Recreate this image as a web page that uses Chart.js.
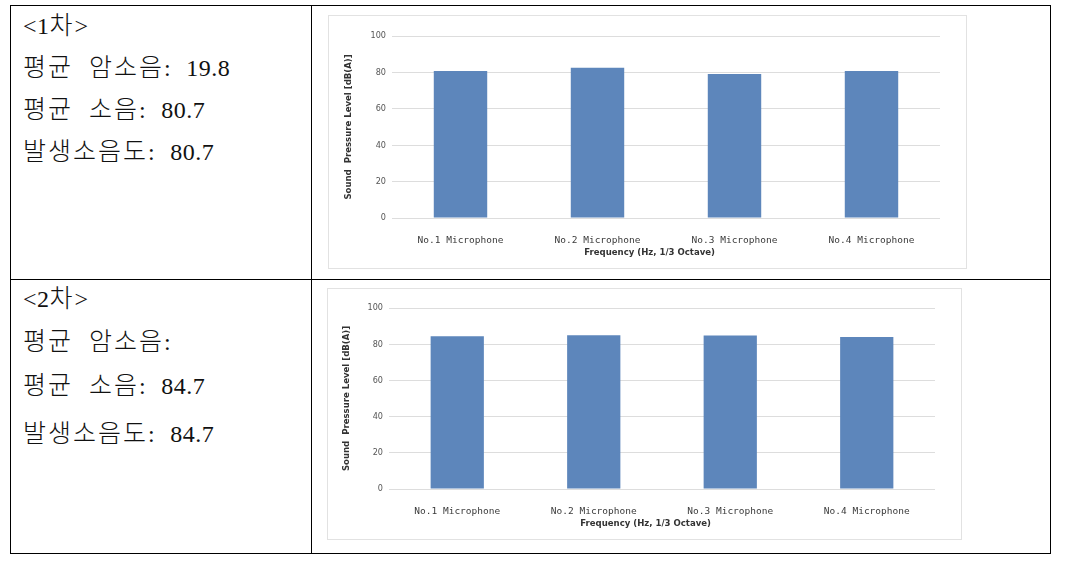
<!DOCTYPE html>
<html>
<head>
<meta charset="utf-8">
<script src="https://cdn.jsdelivr.net/npm/chart.js@4"></script>
<style>
body { margin: 0; background: #fff; width: 1067px; height: 561px; position: relative; overflow: hidden; }
.ln { position: absolute; background: #000; }
.tx { position: absolute; left: 23px; font-family: "Noto Sans CJK KR", sans-serif; font-weight: 300; font-size: 25px; line-height: 30px; white-space: pre; color: #111; letter-spacing: 2px; }
.tx .n { font-family: "Liberation Serif", serif; font-weight: 400; font-size: 24px; letter-spacing: 0.5px; }
.tx .g { display: inline-block; width: 16px; }
.tx .s { display: inline-block; width: 15px; }
.box { position: absolute; }
.box canvas { position: absolute; left: 0; top: 0; }
.box .frame { position: absolute; left: 0; top: 0; right: 0; bottom: 0; border: 1px solid #e2e2e2; pointer-events: none; }
</style>
</head>
<body>

<!-- table lines -->
<div class="ln" style="left:10px;top:5px;width:1041px;height:1px"></div>
<div class="ln" style="left:10px;top:279px;width:1041px;height:1px"></div>
<div class="ln" style="left:10px;top:553px;width:1041px;height:1px"></div>
<div class="ln" style="left:10px;top:5px;width:1px;height:549px"></div>
<div class="ln" style="left:311px;top:5px;width:1px;height:549px"></div>
<div class="ln" style="left:1050px;top:5px;width:1px;height:549px"></div>

<!-- left cells -->
<div class="tx" style="top:8px"><span class="n">&lt;1</span>차<span class="n">&gt;</span></div>
<div class="tx" style="top:50px">평균<span class="g"></span>암소음<span class="n">:</span><span class="s"></span><span class="n">19.8</span></div>
<div class="tx" style="top:92px">평균<span class="g"></span>소음<span class="n">:</span><span class="s"></span><span class="n">80.7</span></div>
<div class="tx" style="top:134px">발생소음도<span class="n">:</span><span class="s"></span><span class="n">80.7</span></div>

<div class="tx" style="top:281px"><span class="n">&lt;2</span>차<span class="n">&gt;</span></div>
<div class="tx" style="top:324px">평균<span class="g"></span>암소음<span class="n">:</span></div>
<div class="tx" style="top:368px">평균<span class="g"></span>소음<span class="n">:</span><span class="s"></span><span class="n">84.7</span></div>
<div class="tx" style="top:416px">발생소음도<span class="n">:</span><span class="s"></span><span class="n">84.7</span></div>

<!-- charts -->
<div class="box" style="left:328px;top:15px;width:639px;height:254px">
  <canvas id="chart1" width="639" height="254"></canvas>
  <div class="frame"></div>
</div>
<div class="box" style="left:327px;top:288px;width:635px;height:252px">
  <canvas id="chart2" width="635" height="252"></canvas>
  <div class="frame"></div>
</div>

<script>
// Data
const categories = ['No.1 Microphone', 'No.2 Microphone', 'No.3 Microphone', 'No.4 Microphone'];
const round1Levels = [80.8, 82.6, 79.1, 80.8];
const round2Levels = [84.4, 85.0, 84.8, 84.0];
const yTickValues = [0, 20, 40, 60, 80, 100];
const xTitle = 'Frequency (Hz, 1/3 Octave)';
const yTitle = 'Sound  Pressure Level [dB(A)]';

const barColor = '#5d86bb';

// Build one bar chart; geo holds plot-area sizes for that canvas
function makeChart(id, values, geo) {
    const ctx = document.getElementById(id).getContext('2d');
    return new Chart(ctx, {
        type: 'bar',
        data: {
            labels: categories,
            datasets: [{
                data: values,
                backgroundColor: barColor,
                borderWidth: 0,
                barPercentage: 0.39,
                categoryPercentage: 1
            }]
        },
        options: {
            responsive: false,
            animation: false,
            layout: {
                padding: { left: 0, right: geo.right, top: geo.top, bottom: 0 }
            },
            plugins: {
                legend: { display: false },
                tooltip: { enabled: false }
            },
            scales: {
                x: {
                    grid: { display: false },
                    border: { display: false },
                    ticks: {
                        padding: 9,
                        color: '#3a3a3a',
                        autoSkip: false,
                        maxRotation: 0,
                        font: { family: 'DejaVu Sans Mono', size: 9.5 }
                    },
                    title: {
                        display: true,
                        // trailing spaces shift the title toward the chart centre, like the original
                        text: xTitle + '           ',
                        color: '#333',
                        font: { family: 'DejaVu Sans Condensed', size: 9.5, weight: 'bold' },
                        padding: { top: 0, bottom: geo.xTitlePad }
                    },
                    afterFit: s => { s.height = geo.xHeight; }
                },
                y: {
                    min: 0,
                    max: 100,
                    afterBuildTicks: s => { s.ticks = yTickValues.map(v => ({ value: v })); },
                    grid: { color: '#dddddd', drawTicks: false },
                    border: { display: false },
                    ticks: {
                        padding: 6,
                        color: '#555',
                        font: { family: 'DejaVu Sans Condensed', size: 9 }
                    },
                    title: {
                        display: true,
                        text: yTitle,
                        color: '#333',
                        font: { family: 'DejaVu Sans Condensed', size: 9.5, weight: 'bold' },
                        padding: { top: geo.yTitlePad, bottom: 0 }
                    },
                    afterFit: s => { s.width = geo.yWidth; }
                }
            }
        }
    });
}

document.addEventListener('DOMContentLoaded', () => {
    makeChart('chart1', round1Levels, { yWidth: 64, right: 27, top: 21, xHeight: 51, xTitlePad: 10.5, yTitlePad: 14.5 });
    makeChart('chart2', round2Levels, { yWidth: 62, right: 27, top: 20, xHeight: 51, xTitlePad: 10.5, yTitlePad: 13.5 });
});
</script>
</body>
</html>
